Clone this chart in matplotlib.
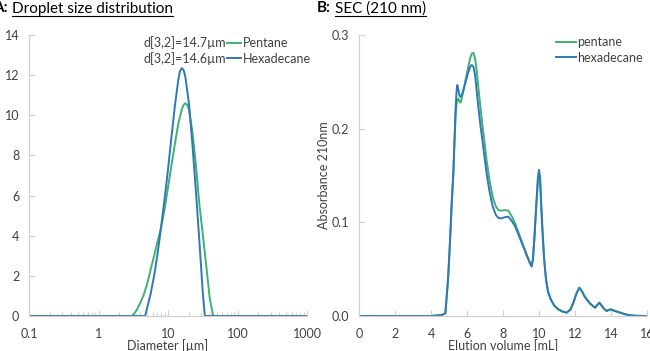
import matplotlib
matplotlib.use('Agg')
import matplotlib.pyplot as pl
from matplotlib.lines import Line2D
from matplotlib.ticker import FixedLocator, FormatStrFormatter, MultipleLocator, NullFormatter

pl.rcParams['font.family'] = ['Lato', 'DejaVu Sans']

# A: droplet size distribution (diameter [um] vs volume %)
diam_pentane = [0.1, 3.09, 3.55, 3.98, 4.47, 5.01, 5.62, 6.31, 7.08, 7.94, 8.91, 10.0, 11.2,
                12.6, 14.1, 15.8, 16.8, 17.8, 18.8, 20.0, 22.4, 25.1, 28.2, 31.6, 35.5, 39.8,
                44.7, 1000]
vol_pentane = [0, 0, 0.3, 0.65, 1.05, 1.6, 2.3, 3.0, 3.7, 4.4, 5.3, 6.4, 7.5,
               8.6, 9.6, 10.3, 10.52, 10.6, 10.52, 10.3, 9.2, 7.6, 5.6, 4.1, 2.5, 0.9,
               0, 0]
diam_hexadecane = [0.1, 4.68, 5.01, 5.62, 6.31, 7.08, 7.94, 8.91, 10.0, 11.2, 12.6, 14.1,
                   14.9, 15.8, 16.8, 17.8, 20.0, 22.4, 25.1, 28.2, 31.6, 33.9, 1000]
vol_hexadecane = [0, 0, 0.4, 1.1, 2.0, 3.1, 4.4, 5.8, 7.3, 8.9, 10.5, 11.8,
                  12.2, 12.35, 12.25, 11.9, 10.6, 8.6, 6.3, 3.8, 1.2, 0, 0]
d32_labels = ['d[3,2]=14.7\u00b5m', 'd[3,2]=14.6\u00b5m']

# B: SEC traces (elution volume [mL] vs absorbance 210 nm)
elution = [0, 4.0, 4.6, 4.8, 4.95, 5.06, 5.15, 5.24, 5.31, 5.37, 5.42, 5.46, 5.52, 5.58, 5.65,
           5.75, 5.9, 6.05, 6.17, 6.26, 6.36, 6.45, 6.55, 6.63, 6.75, 6.85, 6.97, 7.09, 7.25,
           7.43, 7.6, 7.75, 7.93, 8.1, 8.3, 8.5, 8.67, 8.9, 9.13, 9.35, 9.5, 9.59, 9.66, 9.75,
           9.85, 9.94, 10.0, 10.06, 10.12, 10.19, 10.28, 10.39, 10.5, 10.65, 10.85, 11.07, 11.3,
           11.54, 11.75, 11.91, 12.08, 12.24, 12.4, 12.5, 12.65, 12.85, 13.11, 13.25, 13.35,
           13.45, 13.6, 13.76, 13.88, 13.98, 14.15, 14.5, 14.8, 15.06, 15.4, 16.0]
abs_hexadecane = [0, 0, 0.001, 0.003, 0.04, 0.081, 0.12, 0.152, 0.19, 0.223, 0.240, 0.2466,
                  0.242, 0.235, 0.234, 0.238, 0.248, 0.259, 0.266, 0.268, 0.266, 0.257, 0.238,
                  0.223, 0.203, 0.1886, 0.170, 0.152, 0.133, 0.1167, 0.108, 0.1045, 0.1043,
                  0.1055, 0.106, 0.101, 0.0958, 0.085, 0.074, 0.063, 0.056, 0.0527, 0.060,
                  0.085, 0.12, 0.148, 0.156, 0.148, 0.12, 0.0925, 0.062, 0.039, 0.026, 0.0178,
                  0.011, 0.0071, 0.0048, 0.0036, 0.007, 0.0142, 0.024, 0.0302, 0.026, 0.022,
                  0.0178, 0.013, 0.0089, 0.012, 0.0142, 0.012, 0.008, 0.0053, 0.0065, 0.0071,
                  0.0058, 0.0036, 0.0018, 0.0007, 0.0002, 0]
abs_pentane = [0, 0, 0.001, 0.003, 0.04, 0.081, 0.12, 0.152, 0.188, 0.215, 0.226, 0.231,
               0.232, 0.229, 0.228, 0.236, 0.250, 0.264, 0.275, 0.280, 0.281, 0.275, 0.260,
               0.244, 0.222, 0.205, 0.186, 0.166, 0.145, 0.127, 0.117, 0.113, 0.1125,
               0.113, 0.1125, 0.106, 0.099, 0.087, 0.075, 0.064, 0.057, 0.054, 0.060,
               0.084, 0.117, 0.144, 0.152, 0.145, 0.12, 0.0925, 0.062, 0.039, 0.026, 0.0178,
               0.011, 0.0071, 0.0048, 0.0036, 0.007, 0.0142, 0.024, 0.0302, 0.026, 0.022,
               0.0178, 0.013, 0.0089, 0.012, 0.0142, 0.012, 0.008, 0.0053, 0.0065, 0.0071,
               0.0058, 0.0036, 0.0018, 0.0007, 0.0002, 0]

green = '#3bb26e'
blue = '#2f78b7'
grid_grey = '#d0d0d0'
text_grey = '#404040'
tick_fs = 9


def style_axis(ax):
    for side in ['top', 'right']:
        ax.spines[side].set_visible(False)
    for side in ['left', 'bottom']:
        ax.spines[side].set_color(grid_grey)
        ax.spines[side].set_linewidth(0.9)
    ax.tick_params(which='both', direction='in', color=grid_grey, labelcolor=text_grey,
                   labelsize=tick_fs, width=0.8)
    ax.tick_params(which='major', length=4)
    ax.tick_params(which='minor', length=3)
    ax.tick_params(axis='x', which='major', pad=9)
    ax.tick_params(axis='y', which='major', pad=7)


fig = pl.figure(figsize=(6.5, 3.51), dpi=100)
ax_a = fig.add_axes([29 / 650, 1 - 316 / 351, 278 / 650, 281 / 351])
ax_b = fig.add_axes([359 / 650, 1 - 316 / 351, 288 / 650, 281 / 351])

# --- A ---
ax_a.plot(diam_pentane, vol_pentane, color=green, lw=1.4, label='Pentane')
ax_a.plot(diam_hexadecane, vol_hexadecane, color=blue, lw=1.4, label='Hexadecane')
ax_a.set_xscale('log')
ax_a.set_xlim(0.1, 1000)
ax_a.set_ylim(0, 14)
ax_a.yaxis.set_major_locator(MultipleLocator(2))
ax_a.xaxis.set_major_locator(FixedLocator([0.1, 1, 10, 100, 1000]))
ax_a.set_xticklabels(['0.1', '1', '10', '100', '1000'])
ax_a.xaxis.set_minor_formatter(NullFormatter())
style_axis(ax_a)
ax_a.set_xlabel('Diameter [\u00b5m]', fontsize=9, color=text_grey, labelpad=-1)
leg_a = ax_a.legend(loc='upper left', bbox_to_anchor=(227 / 650, 1 - 37 / 351),
                    bbox_transform=fig.transFigure, frameon=False, fontsize=9,
                    handlelength=1.1, handletextpad=0.15, labelspacing=0.3,
                    borderaxespad=0, borderpad=0)
for txt in leg_a.get_texts():
    txt.set_color(text_grey)
for i, lab in enumerate(d32_labels):
    fig.text(226 / 650, 1 - (43 + 16 * i) / 351, lab, fontsize=9, color=text_grey,
             ha='right', va='center')

# --- B ---
ax_b.plot(elution, abs_pentane, color=green, lw=1.4, label='pentane')
ax_b.plot(elution, abs_hexadecane, color=blue, lw=1.4, label='hexadecane')
ax_b.set_xlim(0, 16)
ax_b.set_ylim(0, 0.3)
ax_b.xaxis.set_major_locator(MultipleLocator(2))
ax_b.yaxis.set_major_locator(MultipleLocator(0.1))
ax_b.yaxis.set_major_formatter(FormatStrFormatter('%.1f'))
style_axis(ax_b)
ax_b.set_xlabel('Elution volume [mL]', fontsize=9, color=text_grey, labelpad=-1)
ax_b.set_ylabel('Absorbance 210nm', fontsize=9, color=text_grey, labelpad=1)
leg_b = ax_b.legend(loc='upper left', bbox_to_anchor=(556 / 650, 1 - 36 / 351),
                    bbox_transform=fig.transFigure, frameon=False, fontsize=9,
                    handlelength=1.6, handletextpad=0.1, labelspacing=0.3,
                    borderaxespad=0, borderpad=0)
for txt in leg_b.get_texts():
    txt.set_color(text_grey)

# panel titles, bold letter + underlined name
titles = [(-7, 'A:', 'Droplet size distribution'), (317, 'B:', 'SEC (210 nm)')]
fig.canvas.draw()
renderer = fig.canvas.get_renderer()
for x0, letter, name in titles:
    t1 = fig.text(x0 / 650, 1 - 12.5 / 351, letter, fontsize=11, fontweight='bold',
                  va='baseline', ha='left')
    bb1 = t1.get_window_extent(renderer)
    t2 = fig.text((bb1.x1 + 4) / 650, 1 - 12.5 / 351, name, fontsize=11,
                  va='baseline', ha='left')
    bb2 = t2.get_window_extent(renderer)
    y_ul = (351 - 15.5) / 351
    fig.add_artist(Line2D([bb2.x0 / 650, bb2.x1 / 650], [y_ul, y_ul],
                          transform=fig.transFigure, color='black', lw=0.8))

fig.savefig('out.png', dpi=100)
